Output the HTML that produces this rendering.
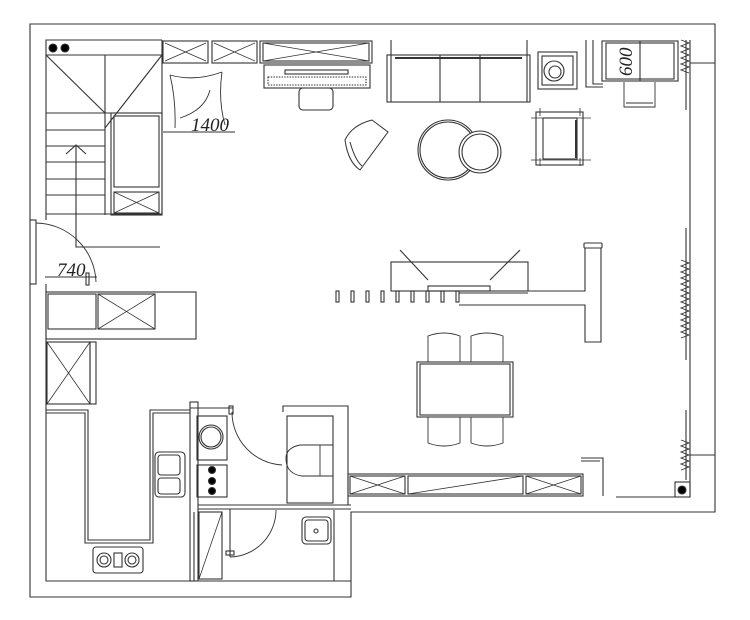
<!DOCTYPE html>
<html><head><meta charset="utf-8"><style>html,body{margin:0;padding:0;background:#fff}svg{display:block}</style></head><body>
<svg width="750" height="620" viewBox="0 0 750 620" xmlns="http://www.w3.org/2000/svg" fill="none" stroke="#333" stroke-width="1.1">
<polyline points="30,220 30,24 715,24 715,512 351,512 351,597 30,597 30,284"/>
<rect x="30" y="220" width="6" height="64"/>
<line x1="690" y1="63" x2="715" y2="63"/><line x1="690" y1="455" x2="715" y2="455"/>
<polyline points="46,220 46,40 162,40"/>
<polyline points="46,284 46,581 351,581"/>
<line x1="690" y1="40" x2="690" y2="497"/>
<polyline points="616,497 690,497"/>
<line x1="46" y1="55" x2="162" y2="55"/>
<circle cx="53" cy="48" r="4" fill="#000"/><circle cx="65" cy="48" r="4" fill="#000"/>
<line x1="105" y1="55" x2="105" y2="215"/><line x1="162" y1="40" x2="162" y2="215"/>
<line x1="46" y1="55" x2="105" y2="113"/><line x1="162" y1="55" x2="105" y2="128"/>
<line x1="105" y1="113" x2="162" y2="113"/>
<g><line x1="46" y1="113" x2="105" y2="113"/><line x1="46" y1="130" x2="105" y2="130"/><line x1="46" y1="146" x2="105" y2="146"/><line x1="46" y1="162" x2="105" y2="162"/><line x1="46" y1="179" x2="105" y2="179"/><line x1="46" y1="195" x2="105" y2="195"/><line x1="46" y1="214" x2="162" y2="214"/></g>
<polyline points="76,145 76,247 160,247"/><polyline points="66,154 76,145 86,154"/>
<rect x="111" y="113" width="51" height="102"/><rect x="114" y="116" width="45" height="71"/>
<rect x="114" y="192" width="45" height="21"/><path d="M114 192L159 213M159 192L114 213" stroke-width=".8"/>
<path d="M36 223 A61 61 0 0 1 96 282" stroke-width=".9"/>
<line x1="45" y1="277" x2="97" y2="277"/><rect x="86" y="273" width="3" height="12"/>
<text x="57" y="276" font-family="Liberation Serif,serif" font-style="italic" font-size="19" fill="#222" stroke="none">740</text>
<rect x="163" y="41" width="45" height="22"/><path d="M165 43L206 61M206 43L165 61" stroke-width=".8"/>
<rect x="212" y="41" width="45" height="22"/><path d="M214 43L255 61M255 43L214 61" stroke-width=".8"/>
<rect x="260" y="41" width="112" height="22"/><rect x="263" y="43" width="106" height="18"/><path d="M263 43L369 61M369 43L263 61" stroke-width=".8"/>
<rect x="264" y="65" width="106" height="23"/><rect x="285" y="70" width="63" height="4"/><rect x="268" y="77" width="98" height="8" stroke-dasharray="1.5 1.2"/>
<rect x="299" y="88" width="34" height="22" rx="4"/>
<path d="M170 75 Q195 82 222 72 M170 75 Q176 100 175 128 M222 72 Q218 100 225 125 M163 132 L235 132 M210 90 Q205 110 180 118" stroke-width=".9"/>
<text x="191" y="131" font-family="Liberation Serif,serif" font-style="italic" font-size="19" fill="#222" stroke="none">1400</text>
<line x1="391" y1="40" x2="391" y2="102"/><line x1="527" y1="40" x2="527" y2="102"/>
<rect x="387" y="55" width="143" height="47"/><line x1="395" y1="58" x2="522" y2="58" stroke-width="2"/>
<line x1="440" y1="55" x2="440" y2="102"/><line x1="480" y1="55" x2="480" y2="102"/>
<rect x="538" y="52" width="39" height="37"/><rect x="542" y="56" width="31" height="29"/><circle cx="554" cy="71" r="10"/><circle cx="555" cy="72" r="6"/>
<polyline points="586,40 586,87 603,87"/><polyline points="593,40 593,84 603,84"/>
<rect x="602" y="41" width="76" height="40"/><rect x="606" y="43" width="68" height="36"/><line x1="640" y1="41" x2="640" y2="81"/>
<text x="0" y="0" transform="translate(632,76) rotate(-90)" font-family="Liberation Serif,serif" font-style="italic" font-size="19" fill="#222" stroke="none">600</text>
<path d="M624 82 L624 107 L655 107 L655 82 M626 103 L653 103" stroke-width=".9"/>
<path d="M681 40 l8 3 -8 3 8 3 -8 3 8 3 -8 3 8 3 -8 3 8 3 -8 3 8 3 M681 260 l8 3 -8 3 8 3 -8 3 8 3 -8 3 8 3 -8 3 8 3 -8 3 8 3 -8 3 8 3 -8 3 8 3 -8 3 8 3 -8 3 8 3 -8 3 8 3 -8 3 8 3 -8 3 8 3 -8 3 M681 440 l8 3 -8 3 8 3 -8 3 8 3 -8 3 8 3 -8 3 8 3 -8 3" stroke-width=".9"/>
<line x1="686" y1="40" x2="686" y2="110"/><line x1="686" y1="228" x2="686" y2="360"/><line x1="686" y1="410" x2="686" y2="480"/>
<rect x="536" y="112" width="47" height="53"/><rect x="543" y="118" width="34" height="41"/><line x1="576" y1="120" x2="576" y2="158" stroke-width="2"/>
<path d="M531 118 h60 M531 160 h60 M540 108 v8 M580 108 v8 M540 158 v8 M580 158 v8" stroke-width=".8"/>
<circle cx="448" cy="150" r="30"/><circle cx="448" cy="150" r="28"/>
<circle cx="480" cy="152" r="21" fill="#fff"/><circle cx="480" cy="152" r="18"/>
<path d="M345 140 Q348 162 360 170 L388 132 L372 120 Q352 125 345 140 Z M350 142 Q355 160 362 166" stroke-width="1"/>
<rect x="391" y="262" width="137" height="29"/><rect x="428" y="286" width="62" height="5"/>
<line x1="400" y1="250" x2="428" y2="280"/><line x1="520" y1="250" x2="490" y2="280"/>
<g><rect x="336" y="291" width="3" height="11"/><rect x="351" y="291" width="3" height="11"/><rect x="366" y="291" width="3" height="11"/><rect x="381" y="291" width="3" height="11"/><rect x="396" y="291" width="3" height="11"/><rect x="411" y="291" width="3" height="11"/><rect x="426" y="291" width="3" height="11"/><rect x="441" y="291" width="3" height="11"/><rect x="456" y="291" width="3" height="11"/></g>
<polyline points="459,305 585,305 585,342 601,342 601,248"/><polyline points="459,293 528,293"/><polyline points="528,291 585,291 585,248"/>
<rect x="584" y="243" width="18" height="5" rx="1"/>
<rect x="417" y="362" width="96" height="55"/><rect x="420" y="364" width="90" height="51"/>
<path d="M428 362 V336 Q444 330 460 336 V362 M471 362 V336 Q487 330 503 336 V362 M428 417 V443 Q444 449 460 443 V417 M471 417 V443 Q487 449 503 443 V417" stroke-width=".9"/>
<rect x="348" y="474" width="235" height="22"/>
<rect x="350" y="476" width="55" height="18"/><path d="M350 476L405 494M405 476L350 494" stroke-width=".8"/>
<rect x="408" y="476" width="115" height="18"/><line x1="408" y1="494" x2="523" y2="476" stroke-width=".8"/>
<rect x="526" y="476" width="55" height="18"/><path d="M526 476L581 494M581 476L526 494" stroke-width=".8"/>
<polyline points="581,458 603,458 603,496"/><line x1="581" y1="461" x2="600" y2="461"/>
<rect x="675" y="482" width="15" height="15"/><circle cx="682" cy="490" r="4" fill="#000"/>
<rect x="46" y="292" width="150" height="47"/>
<rect x="48" y="294" width="48" height="35"/><rect x="98" y="294" width="57" height="35"/><path d="M98 294L155 329M155 294L98 329" stroke-width=".8"/>
<rect x="47" y="342" width="43" height="62"/><path d="M47 342L90 404M90 342L47 404" stroke-width=".8"/><rect x="90" y="342" width="6" height="62"/>
<polyline points="46,410 88,410 88,540 150,540 150,410 190,410"/>
<polyline points="46,413 85,413 85,543 153,543 153,413 190,413"/>
<rect x="155" y="452" width="30" height="45" rx="4"/><rect x="158" y="455" width="22" height="20" rx="3"/><rect x="158" y="478" width="22" height="16" rx="3"/>
<rect x="93" y="547" width="50" height="26" rx="3"/><circle cx="104" cy="560" r="7"/><circle cx="104" cy="560" r="4"/><circle cx="132" cy="560" r="7"/><circle cx="132" cy="560" r="4"/><rect x="114" y="553" width="8" height="14"/>
<rect x="190" y="402" width="8" height="179"/><line x1="190" y1="408" x2="233" y2="408"/><rect x="229" y="406" width="4" height="8"/>
<rect x="197" y="416" width="30" height="44"/><circle cx="211" cy="437" r="12"/><circle cx="211" cy="437" r="10"/>
<rect x="197" y="465" width="30" height="32"/><circle cx="212" cy="470" r="3.5" fill="#000"/><circle cx="212" cy="481" r="3.5" fill="#000"/><circle cx="212" cy="491" r="3.5" fill="#000"/>
<path d="M232 412 A53 53 0 0 0 282 465" stroke-width=".9"/>
<polyline points="283,412 283,406 348,406 348,505"/><rect x="287" y="416" width="46" height="87"/>
<path d="M333 445 L300 445 Q285 448 286 460 Q287 474 302 476 L333 476 M320 445 V476" stroke-width=".9"/>
<line x1="198" y1="505" x2="351" y2="505"/><line x1="198" y1="509" x2="351" y2="509"/>
<rect x="199" y="512" width="23" height="67"/><line x1="199" y1="579" x2="222" y2="512" stroke-width=".8"/><line x1="194" y1="512" x2="194" y2="581"/>
<line x1="230" y1="509" x2="230" y2="557"/><path d="M230 557 A47 47 0 0 0 276 510" stroke-width=".9"/><rect x="226" y="551" width="8" height="4"/>
<rect x="302" y="517" width="29" height="27" rx="4"/><rect x="305" y="520" width="23" height="21" rx="3"/><circle cx="316" cy="531" r="2"/>
<line x1="334" y1="510" x2="334" y2="581"/>
</svg>
</body></html>
